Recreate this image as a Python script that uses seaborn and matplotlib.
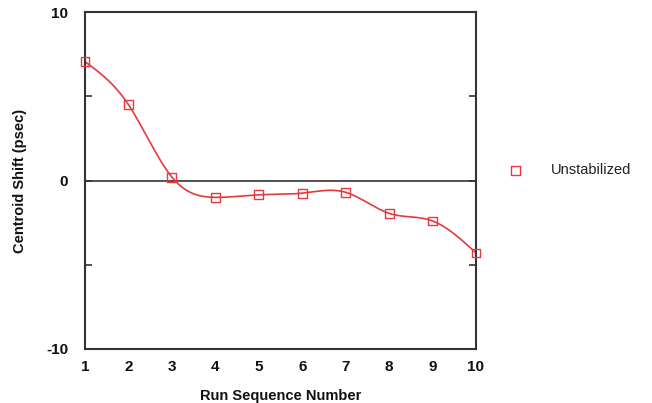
import numpy as np
import pandas as pd
import matplotlib
matplotlib.use("Agg")
import matplotlib.pyplot as plt
import seaborn as sns
from matplotlib.ticker import MultipleLocator

run = [1, 2, 3, 4, 5, 6, 7, 8, 9, 10]
shift = [7.05, 4.5, 0.2, -1.0, -0.85, -0.75, -0.7, -1.95, -2.4, -4.3]
series_name = "Unstabilized"

def natural_spline(x, y, n=400):
    x = np.asarray(x, float); y = np.asarray(y, float)
    k = len(x); h = np.diff(x)
    A = np.zeros((k, k)); r = np.zeros(k)
    A[0, 0] = A[-1, -1] = 1
    for i in range(1, k - 1):
        A[i, i - 1] = h[i - 1]; A[i, i] = 2 * (h[i - 1] + h[i]); A[i, i + 1] = h[i]
        r[i] = 3 * ((y[i + 1] - y[i]) / h[i] - (y[i] - y[i - 1]) / h[i - 1])
    c = np.linalg.solve(A, r)
    b = (y[1:] - y[:-1]) / h - h * (2 * c[:-1] + c[1:]) / 3
    d = (c[1:] - c[:-1]) / (3 * h)
    xs = np.linspace(x[0], x[-1], n)
    idx = np.clip(np.searchsorted(x, xs) - 1, 0, k - 2)
    dx = xs - x[idx]
    ys = y[idx] + b[idx] * dx + c[idx] * dx ** 2 + d[idx] * dx ** 3
    return xs, ys

sns.set_style("white")
plt.rcParams["font.family"] = ["Liberation Sans", "DejaVu Sans"]
plt.rcParams["axes.unicode_minus"] = False
fig = plt.figure(figsize=(6.52, 4.03), dpi=100)
ax = fig.add_axes([85 / 652, 1 - 349 / 403, (476 - 85) / 652, (349 - 12) / 403])

red = "#e8383d"
xs, ys = natural_spline(run, shift)
sns.lineplot(x=xs, y=ys, ax=ax, color=red, linewidth=1.2, legend=False)
df = pd.DataFrame({"run": run, "shift": shift})
sns.scatterplot(data=df, x="run", y="shift", ax=ax, marker="s", s=40,
                facecolor="none", edgecolor=red, linewidth=1.0, label=series_name, zorder=5)
for coll in ax.collections:
    coll.set_clip_on(False)

ax.axhline(0, color="#333333", linewidth=1.2, zorder=1)
ax.set_xlim(1, 10)
ax.set_ylim(-10, 10)
ax.set_xticks(run)
ax.set_yticks([-10, 0, 10])
ax.yaxis.set_minor_locator(MultipleLocator(5))
ax.tick_params(axis="both", which="both", direction="in", length=5, width=1.2,
               color="#333333", labelsize=11, labelcolor="#111111")
ax.tick_params(axis="y", which="both", right=True, left=True, pad=12)
ax.tick_params(axis="x", pad=8)
for lab in ax.get_xticklabels() + ax.get_yticklabels():
    lab.set_fontweight("bold")
for s in ax.spines.values():
    s.set_color("#333333"); s.set_linewidth(1.5); s.set_visible(True)

ax.set_xlabel("Run Sequence Number", fontsize=10.5, fontweight="bold", labelpad=11, color="#111111")
ax.set_ylabel("Centroid Shift (psec)", fontsize=10.5, fontweight="bold", labelpad=14, color="#111111")

leg = ax.legend(loc="center left", bbox_to_anchor=(1.03, 0.53), frameon=False,
                fontsize=10.5, handletextpad=1.4, markerscale=1.0)
for t in leg.get_texts():
    t.set_color("#222222")
fig.savefig("out.png", dpi=100)
